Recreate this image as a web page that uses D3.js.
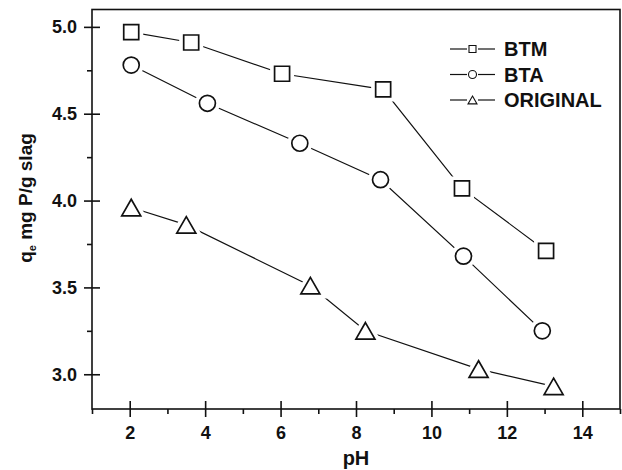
<!DOCTYPE html>
<html lang="en">
<head>
    <meta charset="UTF-8">
    <title>qe vs pH</title>
    <script src="https://d3js.org/d3.v7.min.js"></script>
    <style>
        body { margin: 0; background: white; }
        text { font-family: Arial, "Liberation Sans", sans-serif; font-weight: bold; fill: #111; }
        .line { fill: none; stroke: #111; stroke-width: 1.2; }
        .axis path, .axis line { stroke: #111; stroke-width: 1.6; }
    </style>
</head>
<body>
    <svg width="622" height="470"></svg>
    <script>
        // values
        const phBTM = [2.04, 3.63, 6.04, 8.72, 10.81, 13.04];
        const qBTM = [4.97, 4.91, 4.73, 4.64, 4.07, 3.71];
        const phBTA = [2.04, 4.06, 6.51, 8.65, 10.85, 12.94];
        const qBTA = [4.78, 4.56, 4.33, 4.12, 3.68, 3.25];
        const phOrig = [2.04, 3.50, 6.79, 8.25, 11.25, 13.24];
        const qOrig = [3.96, 3.86, 3.51, 3.25, 3.03, 2.93];

        const seriesNames = ["BTM", "BTA", "ORIGINAL"];
        const xTicks = [2, 4, 6, 8, 10, 12, 14];
        const xMinor = [1, 3, 5, 7, 9, 11, 13, 15];
        const yTicks = [3.0, 3.5, 4.0, 4.5, 5.0];
        const yMinor = [3.25, 3.75, 4.25, 4.75];

        const width = 622;
        const height = 470;
        const margin = {top: 9.5, right: 2, bottom: 61, left: 92};

        const svg = d3.select("svg");

        const x = d3.scaleLinear()
            .domain([1, 15])
            .range([margin.left, width - margin.right]);

        const y = d3.scaleLinear()
            .domain([2.8, 5.1])
            .range([height - margin.bottom, margin.top]);

        const series = [
            {name: seriesNames[0], shape: "square", data: phBTM.map((p, i) => ({p, q: qBTM[i]}))},
            {name: seriesNames[1], shape: "circle", data: phBTA.map((p, i) => ({p, q: qBTA[i]}))},
            {name: seriesNames[2], shape: "triangle", data: phOrig.map((p, i) => ({p, q: qOrig[i]}))}
        ];

        // marker shapes, centred on the bounding box
        function shapePath(shape, s) {
            const p = d3.path();
            if (shape === "square") {
                p.rect(-s / 2, -s / 2, s, s);
            } else if (shape === "circle") {
                p.arc(0, 0, s / 2, 0, 2 * Math.PI);
            } else {
                const h = s * 0.87;
                p.moveTo(0, -h / 2);
                p.lineTo(s / 2, h / 2);
                p.lineTo(-s / 2, h / 2);
                p.closePath();
            }
            return p.toString();
        }
        const markerSize = {square: 15, circle: 16, triangle: 19};
        const legendSize = {square: 7, circle: 8, triangle: 9};

        // frame
        svg.append("rect")
            .attr("x", margin.left)
            .attr("y", margin.top)
            .attr("width", width - margin.right - margin.left)
            .attr("height", height - margin.bottom - margin.top)
            .attr("fill", "none")
            .attr("stroke", "#111")
            .attr("stroke-width", 1.6);

        // x axis
        const gx = svg.append("g")
            .attr("class", "axis")
            .attr("transform", `translate(0,${height - margin.bottom})`)
            .call(d3.axisBottom(x).tickValues(xTicks).tickSize(8).tickPadding(9).tickSizeOuter(0));
        gx.selectAll(".tick").append("line").attr("y2", -8);
        gx.selectAll("text").style("font-size", "18px");
        gx.select(".domain").remove();
        svg.append("g")
            .attr("class", "axis")
            .attr("transform", `translate(0,${height - margin.bottom})`)
            .call(d3.axisBottom(x).tickValues(xMinor).tickSize(5).tickFormat(""))
            .select(".domain").remove();

        // y axis
        const gy = svg.append("g")
            .attr("class", "axis")
            .attr("transform", `translate(${margin.left},0)`)
            .call(d3.axisLeft(y).tickValues(yTicks).tickSize(8).tickPadding(7).tickFormat(d3.format(".1f")));
        gy.selectAll(".tick").append("line").attr("x2", 8);
        gy.selectAll("text").style("font-size", "18px");
        gy.select(".domain").remove();
        svg.append("g")
            .attr("class", "axis")
            .attr("transform", `translate(${margin.left},0)`)
            .call(d3.axisLeft(y).tickValues(yMinor).tickSize(5).tickFormat(""))
            .select(".domain").remove();

        // axis titles
        svg.append("text")
            .attr("x", (margin.left + width - margin.right) / 2)
            .attr("y", 465)
            .attr("text-anchor", "middle")
            .style("font-size", "20px")
            .text("pH");

        const yTitle = svg.append("text")
            .attr("transform", "translate(32,198) rotate(-90)")
            .attr("text-anchor", "middle")
            .style("font-size", "19px");
        yTitle.append("tspan").text("q");
        yTitle.append("tspan").attr("dy", 4).style("font-size", "11px").text("e");
        yTitle.append("tspan").attr("dy", -4).text(" mg P/g slag");

        // lines
        const line = d3.line().x(d => x(d.p)).y(d => y(d.q));
        series.forEach(s => {
            svg.append("path")
                .datum(s.data)
                .attr("class", "line")
                .attr("d", line);
        });

        // white halo gives the gap between line and marker
        series.forEach(s => {
            svg.selectAll(null)
                .data(s.data)
                .enter().append("path")
                .attr("transform", d => `translate(${x(d.p)},${y(d.q)})`)
                .attr("d", shapePath(s.shape, markerSize[s.shape]))
                .attr("fill", "white")
                .attr("stroke", "white")
                .attr("stroke-width", 9);
        });
        series.forEach(s => {
            svg.selectAll(null)
                .data(s.data)
                .enter().append("path")
                .attr("transform", d => `translate(${x(d.p)},${y(d.q)})`)
                .attr("d", shapePath(s.shape, markerSize[s.shape]))
                .attr("fill", "white")
                .attr("stroke", "#111")
                .attr("stroke-width", 1.7);
        });

        // legend
        const legend = svg.append("g").attr("transform", "translate(450,49)");
        series.forEach((s, i) => {
            const g = legend.append("g").attr("transform", `translate(0,${i * 25.5})`);
            g.append("line").attr("x1", 0).attr("x2", 17).attr("stroke", "#111").attr("stroke-width", 1.2);
            g.append("line").attr("x1", 28).attr("x2", 45).attr("stroke", "#111").attr("stroke-width", 1.2);
            g.append("path")
                .attr("transform", "translate(22.5,0)")
                .attr("d", shapePath(s.shape, legendSize[s.shape]))
                .attr("fill", "white")
                .attr("stroke", "#111")
                .attr("stroke-width", 1.1);
            g.append("text")
                .attr("x", 54)
                .attr("dy", "0.36em")
                .style("font-size", "20px")
                .text(s.name);
        });
    </script>
</body>
</html>
